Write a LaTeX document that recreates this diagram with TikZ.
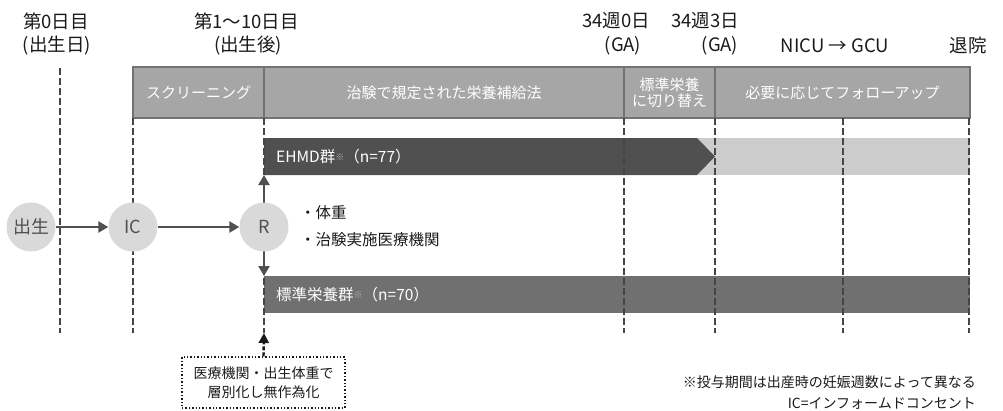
\documentclass[tikz,border=0pt]{standalone}
\usepackage{fontspec}
\setmainfont{Noto Sans CJK JP}
\usetikzlibrary{arrows.meta}
\definecolor{hdrfill}{HTML}{A6A6A6}
\definecolor{hdrline}{HTML}{737373}
\definecolor{darkbar}{HTML}{505050}
\definecolor{lightbar}{HTML}{CCCCCC}
\definecolor{stdbar}{HTML}{707070}
\definecolor{circfill}{HTML}{D9D9D9}
\definecolor{circtext}{HTML}{505050}
\definecolor{dashcol}{HTML}{454545}
\definecolor{txt}{HTML}{1A1A1A}
\definecolor{notecol}{HTML}{B0B0B0}
\newcommand{\kome}{{\color{notecol}\raisebox{2.5pt}{\fontsize{9}{9}\selectfont ※}}}
\begin{document}
\begin{tikzpicture}[x=1pt,y=-1pt,
  toplabel/.style={text=txt,font=\fontsize{18.5}{22}\selectfont,inner sep=0pt},
  cell/.style={draw=hdrline,line width=1.8pt,fill=hdrfill,minimum height=51pt,inner sep=0pt,text=white,font=\fontsize{15}{19}\selectfont,align=center},
  circ/.style={circle,fill=circfill,minimum size=49pt,inner sep=0pt,text=circtext,font=\fontsize{18}{18}\selectfont},
  timeline/.style={draw=dashcol,line width=2.8pt,dash pattern=on 6.5pt off 3.5pt},
  flow/.style={draw=darkbar,line width=2.8pt,-{Triangle[width=11pt,length=10pt]}},
  bartext/.style={text=white,font=\fontsize{15.5}{15.5}\selectfont,anchor=west,inner sep=0pt},
  bullet/.style={text=txt,font=\fontsize{15.5}{15.5}\selectfont,anchor=west,inner sep=0pt},
  note/.style={text=txt,font=\fontsize{14}{14}\selectfont,anchor=east,inner sep=0pt}
]
\useasboundingbox (0,0) rectangle (1003,410);

% top labels
\node[toplabel] (d0a) at (56,21) {第0日目};
\node[toplabel] (d0b) at (57,46) {(出生日)};
\node[toplabel] (d1a) at (246.5,21) {第1～10日目};
\node[toplabel] (d1b) at (248,46) {(出生後)};
\node[toplabel] (w0a) at (616,21) {34週0日};
\node[toplabel] (w0b) at (623,46) {(GA)};
\node[toplabel] (w3a) at (705,21) {34週3日};
\node[toplabel] (w3b) at (720,46) {(GA)};
\node[toplabel] (nicu) at (835,46) {NICU → GCU};
\node[toplabel] (disc) at (968,46) {退院};

% header cells
\node[cell,minimum width=131pt] (scr) at (198.5,92.5) {スクリーニング};
\node[cell,minimum width=360pt] (trial) at (444,92.5) {治験で規定された栄養補給法};
\node[cell,minimum width=91pt] (switch) at (669.5,92.5) {標準栄養\\[-3pt]に切り替え};
\node[cell,minimum width=255pt] (follow) at (842.5,92.5) {必要に応じてフォローアップ};

% bars
\fill[lightbar] (697,138) rectangle (970,175);
\fill[darkbar] (264,138) -- (697,138) -- (715,156.5) -- (697,175) -- (264,175) -- cycle;
\fill[stdbar] (264,276) rectangle (970,313);
\coordinate (ehmdbot) at (264,175);
\coordinate (stdtop) at (264,276);

% timelines
\coordinate (t0a) at (60,68);   \coordinate (t0b) at (60,333);
\coordinate (t1a) at (133,118); \coordinate (t1b) at (133,333);
\coordinate (t2a) at (264,118); \coordinate (t2b) at (264,333);
\coordinate (t3a) at (624,118); \coordinate (t3b) at (624,333);
\coordinate (t4a) at (715,118); \coordinate (t4b) at (715,333);
\coordinate (t5a) at (843,118); \coordinate (t5b) at (843,333);
\coordinate (t6a) at (969,118); \coordinate (t6b) at (969,333);
\foreach \i in {0,...,6} {\draw[timeline] (t\i a) -- (t\i b);}

% bar labels
\node[bartext] (ehmd) at (276,157) {EHMD群\kome（n=77）};
\node[bartext] (std) at (276,295) {標準栄養群\kome（n=70）};

% circles
\node[circ] (birth) at (31,227) {出生};
\node[circ] (ic) at (133,227) {IC};
\node[circ] (r) at (264,227) {R};
\draw[flow] (birth) -- (ic);
\draw[flow] (ic) -- (r);
\draw[flow] (r) -- (ehmdbot);
\draw[flow] (r) -- (stdtop);

% bullets
\node[bullet] (b1) at (300,213) {・体重};
\node[bullet] (b2) at (300,240) {・治験実施医療機関};

% stratification box
\node[draw=txt,dotted,line width=1.4pt,minimum width=163pt,minimum height=51pt,align=center,text=txt,font=\fontsize{14}{19}\selectfont,inner sep=0pt] (strat) at (263.5,382.5) {医療機関・出生体重で\\層別化し無作為化};
\draw[txt,line width=2.4pt,dash pattern=on 4pt off 2pt,-{Triangle[width=10pt,length=10pt]}] (strat.north) -- (t2b);

% footnotes
\node[note] (n1) at (976,382) {※投与期間は出産時の妊娠週数によって異なる};
\node[note] (n2) at (976,403) {IC=インフォームドコンセント};
\end{tikzpicture}
\end{document}
